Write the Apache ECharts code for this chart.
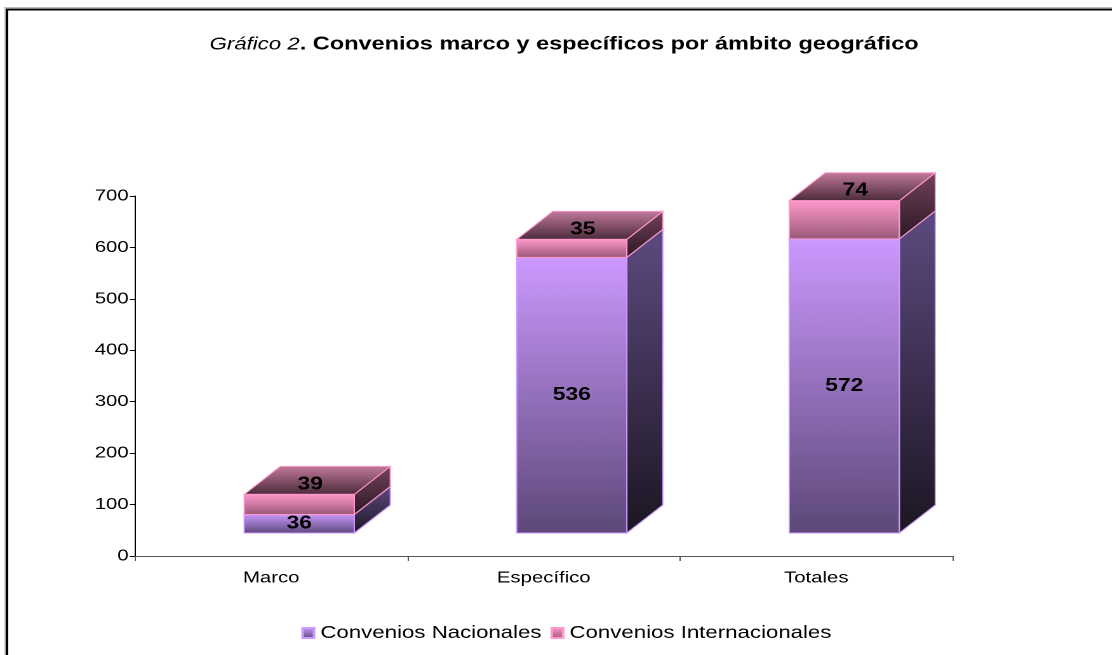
<!DOCTYPE html>
<html>
<head>
<meta charset="utf-8">
<script src="https://cdn.jsdelivr.net/npm/echarts@6/dist/echarts.min.js"></script>
<style>
html,body{margin:0;padding:0;background:#fff;overflow:hidden;}
#main{height:655px;transform-origin:0 0;}
</style>
</head>
<body>
<div id="main"></div>
<script>
// ---- data ----
const categories = ['Marco', 'Específico', 'Totales'];
const nacionales = [36, 536, 572];
const internacionales = [39, 35, 74];
const seriesNames = ['Convenios Nacionales', 'Convenios Internacionales'];
const yMin = 0, yMax = 700, yStep = 100;

// ---- layout (horizontal stretch like the original picture) ----
const S = 1.27;
const W = 1112 / S;
const dom = document.getElementById('main');
dom.style.width = W + 'px';
dom.style.transform = 'scaleX(' + S + ')';

const FX = 28 / S, FY = -23;   // front-face offset from the axis plane
const DX = 36 / S, DY = -28;   // bar depth
const BAR_FRAC = 0.404;
const FONT = '"Liberation Sans", Arial, sans-serif';

function grad(c0, c1) {
  return new echarts.graphic.LinearGradient(0, 0, 0, 1, [
    { offset: 0, color: c0 }, { offset: 1, color: c1 }
  ]);
}

const palettes = [
  { front: ['#CC99FF', '#5C4878'], side: ['#5E4A80', '#1C1622'], top: ['#9A7CC8', '#4A3A60'], stroke: '#CC99FF' },
  { front: ['#FF99CC', '#9A5878'], side: ['#74425E', '#2A1822'], top: ['#C27A9C', '#4A2A3A'], stroke: '#FF99CC' }
];

function makeRender(si) {
  const pal = palettes[si];
  return function (params, api) {
    const i = api.value(0), b = api.value(1), t = api.value(2), v = api.value(3);
    const pb = api.coord([i, b]);
    const pt = api.coord([i, t]);
    const cw = api.size([1, 0])[0];
    const w = cw * BAR_FRAC;
    const L = pb[0] + FX - w / 2, R = L + w;
    const yb = pb[1] + FY, yt = pt[1] + FY;
    const st = { stroke: pal.stroke, lineWidth: 1 };
    const children = [
      { type: 'polygon', shape: { points: [[R, yt], [R + DX, yt + DY], [R + DX, yb + DY], [R, yb]] },
        style: Object.assign({ fill: grad(pal.side[0], pal.side[1]) }, st) },
      { type: 'polygon', shape: { points: [[L, yt], [L + DX, yt + DY], [R + DX, yt + DY], [R, yt]] },
        style: Object.assign({ fill: grad(pal.top[0], pal.top[1]) }, st) },
      { type: 'rect', shape: { x: L, y: yt, width: w, height: yb - yt },
        style: Object.assign({ fill: grad(pal.front[0], pal.front[1]) }, st) }
    ];
    let lx, ly;
    if (si === 0) { lx = (L + R) / 2; ly = (yt + yb) / 2; }
    else { lx = (L + R) / 2 + 11 / S; ly = yt - 10; }
    children.push({
      type: 'text', z2: 10,
      style: { text: String(v), x: lx, y: ly, align: 'center', verticalAlign: 'middle',
        font: 'bold 18px ' + FONT, fill: '#000' }
    });
    return { type: 'group', children: children };
  };
}

const data0 = categories.map((c, i) => [i, 0, nacionales[i], nacionales[i]]);
const data1 = categories.map((c, i) => [i, nacionales[i], nacionales[i] + internacionales[i], internacionales[i]]);

const chart = echarts.init(dom, null, { devicePixelRatio: 2 });
chart.setOption({
  animation: false,
  backgroundColor: '#fff',
  title: {
    left: 160, top: 30,
    text: '{a|Gráfico 2}{b|. Convenios marco y específicos por ámbito geográfico}',
    textStyle: {
      rich: {
        a: { fontFamily: FONT, fontStyle: 'italic', fontWeight: 'normal', fontSize: 17.5, color: '#000' },
        b: { fontFamily: FONT, fontWeight: 'bold', fontSize: 18.5, color: '#000' }
      }
    }
  },
  graphic: [
    { type: 'rect', shape: { x: 4, y: 7.5, width: 2000, height: 2000 }, style: { fill: 'none', stroke: '#bbb', lineWidth: 1 } },
    { type: 'rect', shape: { x: 5.5, y: 9.5, width: 2000, height: 2000 }, style: { fill: 'none', stroke: '#000', lineWidth: 2 } }
  ],
  legend: {
    bottom: 8, left: 295 / S,
    itemWidth: 9, itemHeight: 10, itemGap: 7,
    icon: 'rect',
    textStyle: { fontFamily: FONT, fontSize: 17.5, color: '#000' },
    data: seriesNames
  },
  grid: { left: 135 / S, right: (1112 - 952) / S, top: 196, bottom: 99, containLabel: false },
  xAxis: {
    type: 'category', data: categories, boundaryGap: true,
    axisLine: { lineStyle: { color: '#555', width: 1 } },
    axisTick: { show: true, length: 5, lineStyle: { color: '#555' } },
    axisLabel: { fontFamily: FONT, fontSize: 16, color: '#000', margin: 14 },
    splitLine: { show: false }
  },
  yAxis: {
    type: 'value', min: yMin, max: yMax, interval: yStep,
    axisLine: { show: true, lineStyle: { color: '#000', width: 1 } },
    axisTick: { show: true, length: 4, lineStyle: { color: '#000' } },
    axisLabel: { fontFamily: FONT, fontSize: 16, color: '#000', margin: 5 },
    splitLine: { show: false }
  },
  series: [
    { name: seriesNames[0], type: 'custom', renderItem: makeRender(0), data: data0,
      encode: { x: 0, y: [1, 2] },
      itemStyle: { color: grad('#CC99FF', '#5C4878'), borderColor: '#CC99FF', borderWidth: 1 } },
    { name: seriesNames[1], type: 'custom', renderItem: makeRender(1), data: data1,
      encode: { x: 0, y: [1, 2] },
      itemStyle: { color: grad('#FF99CC', '#9A5878'), borderColor: '#FF99CC', borderWidth: 1 } }
  ]
});
</script>
</body>
</html>
